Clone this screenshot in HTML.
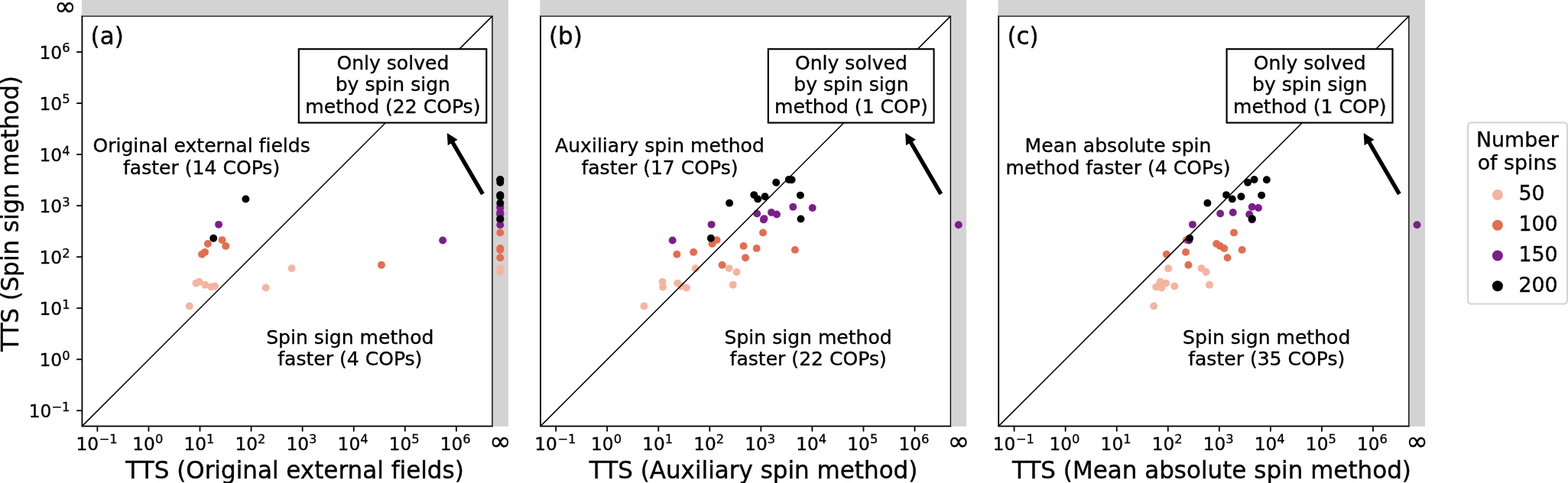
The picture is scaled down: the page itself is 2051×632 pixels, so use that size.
<!DOCTYPE html>
<html lang="en">
<head>
<meta charset="utf-8">
<title>TTS comparison</title>
<style>html,body{margin:0;padding:0;background:#fff;}body{width:2051px;height:632px;overflow:hidden;}svg{display:block;}</style>
</head>
<body>
<svg width="2051" height="632" viewBox="0 0 2051 632" font-family='"DejaVu Sans", "Liberation Sans", sans-serif' fill="#000" style="font-variant-ligatures:none">
<rect x="0" y="0" width="2051" height="632" fill="#fff"/>
<rect x="107.00" y="-5" width="557.86" height="562.90" fill="#d3d3d3"/>
<rect x="107.4" y="20.9" width="536.74" height="536.75" fill="#fff"/>
<rect x="107.4" y="20.9" width="536.74" height="536.75" fill="none" stroke="#000" stroke-width="1.8"/>
<rect x="107.00" y="-5" width="557.86" height="25.60" fill="#d3d3d3"/>
<rect x="644.64" y="-5" width="20.22" height="562.90" fill="#d3d3d3"/>
<g fill="#f4b5a0">
<circle cx="381.60" cy="351.20" r="4.95"/>
<circle cx="654.30" cy="351.10" r="4.95"/>
<circle cx="654.30" cy="356.00" r="4.95"/>
<circle cx="260.60" cy="368.75" r="4.95"/>
<circle cx="256.50" cy="370.60" r="4.95"/>
<circle cx="268.30" cy="372.75" r="4.95"/>
<circle cx="281.10" cy="374.55" r="4.95"/>
<circle cx="276.30" cy="375.50" r="4.95"/>
<circle cx="347.70" cy="376.45" r="4.95"/>
<circle cx="247.80" cy="400.50" r="4.95"/>
</g>
<g fill="#e46d50">
<circle cx="654.30" cy="304.40" r="4.95"/>
<circle cx="290.50" cy="314.10" r="4.95"/>
<circle cx="271.85" cy="319.00" r="4.95"/>
<circle cx="295.30" cy="321.90" r="4.95"/>
<circle cx="654.30" cy="324.90" r="4.95"/>
<circle cx="654.30" cy="326.90" r="4.95"/>
<circle cx="268.05" cy="329.90" r="4.95"/>
<circle cx="264.10" cy="332.80" r="4.95"/>
<circle cx="654.30" cy="337.20" r="4.95"/>
<circle cx="498.95" cy="346.70" r="4.95"/>
</g>
<g fill="#7a1f8a">
<circle cx="654.30" cy="270.75" r="4.95"/>
<circle cx="654.30" cy="272.00" r="4.95"/>
<circle cx="654.30" cy="277.95" r="4.95"/>
<circle cx="654.30" cy="279.55" r="4.95"/>
<circle cx="654.30" cy="280.50" r="4.95"/>
<circle cx="654.30" cy="286.10" r="4.95"/>
<circle cx="654.30" cy="287.40" r="4.95"/>
<circle cx="286.05" cy="293.85" r="4.95"/>
<circle cx="654.30" cy="294.20" r="4.95"/>
<circle cx="579.10" cy="314.50" r="4.95"/>
</g>
<g fill="#000000">
<circle cx="654.30" cy="235.05" r="4.95"/>
<circle cx="654.30" cy="235.25" r="4.95"/>
<circle cx="654.30" cy="238.80" r="4.95"/>
<circle cx="654.30" cy="255.10" r="4.95"/>
<circle cx="654.30" cy="255.60" r="4.95"/>
<circle cx="654.30" cy="257.30" r="4.95"/>
<circle cx="321.40" cy="260.40" r="4.95"/>
<circle cx="654.30" cy="265.65" r="4.95"/>
<circle cx="654.30" cy="286.40" r="4.95"/>
<circle cx="279.20" cy="311.80" r="4.95"/>
</g>
<line x1="107.4" y1="557.65" x2="644.14" y2="20.9" stroke="#000" stroke-width="1.5"/>
<line x1="127.37" y1="557.65" x2="127.37" y2="564.65" stroke="#000" stroke-width="1.8"/>
<text transform="translate(99.42,589.40) scale(1,1.0)" font-size="23.25" text-anchor="start" stroke="#000" stroke-width="0.35">10</text>
<text transform="translate(129.69,580.30) scale(1,1.0)" font-size="16.3" text-anchor="start" stroke="#000" stroke-width="0.3">−1</text>
<line x1="194.44" y1="557.65" x2="194.44" y2="564.65" stroke="#000" stroke-width="1.8"/>
<text transform="translate(173.32,589.40) scale(1,1.0)" font-size="23.25" text-anchor="start" stroke="#000" stroke-width="0.35">10</text>
<text transform="translate(202.89,580.30) scale(1,1.0)" font-size="16.3" text-anchor="start" stroke="#000" stroke-width="0.3">0</text>
<line x1="261.51" y1="557.65" x2="261.51" y2="564.65" stroke="#000" stroke-width="1.8"/>
<text transform="translate(240.39,589.40) scale(1,1.0)" font-size="23.25" text-anchor="start" stroke="#000" stroke-width="0.35">10</text>
<text transform="translate(269.96,580.30) scale(1,1.0)" font-size="16.3" text-anchor="start" stroke="#000" stroke-width="0.3">1</text>
<line x1="328.58" y1="557.65" x2="328.58" y2="564.65" stroke="#000" stroke-width="1.8"/>
<text transform="translate(307.46,589.40) scale(1,1.0)" font-size="23.25" text-anchor="start" stroke="#000" stroke-width="0.35">10</text>
<text transform="translate(337.03,580.30) scale(1,1.0)" font-size="16.3" text-anchor="start" stroke="#000" stroke-width="0.3">2</text>
<line x1="395.65" y1="557.65" x2="395.65" y2="564.65" stroke="#000" stroke-width="1.8"/>
<text transform="translate(374.53,589.40) scale(1,1.0)" font-size="23.25" text-anchor="start" stroke="#000" stroke-width="0.35">10</text>
<text transform="translate(404.10,580.30) scale(1,1.0)" font-size="16.3" text-anchor="start" stroke="#000" stroke-width="0.3">3</text>
<line x1="462.72" y1="557.65" x2="462.72" y2="564.65" stroke="#000" stroke-width="1.8"/>
<text transform="translate(441.60,589.40) scale(1,1.0)" font-size="23.25" text-anchor="start" stroke="#000" stroke-width="0.35">10</text>
<text transform="translate(471.17,580.30) scale(1,1.0)" font-size="16.3" text-anchor="start" stroke="#000" stroke-width="0.3">4</text>
<line x1="529.79" y1="557.65" x2="529.79" y2="564.65" stroke="#000" stroke-width="1.8"/>
<text transform="translate(508.67,589.40) scale(1,1.0)" font-size="23.25" text-anchor="start" stroke="#000" stroke-width="0.35">10</text>
<text transform="translate(538.24,580.30) scale(1,1.0)" font-size="16.3" text-anchor="start" stroke="#000" stroke-width="0.3">5</text>
<line x1="596.86" y1="557.65" x2="596.86" y2="564.65" stroke="#000" stroke-width="1.8"/>
<text transform="translate(575.74,589.40) scale(1,1.0)" font-size="23.25" text-anchor="start" stroke="#000" stroke-width="0.35">10</text>
<text transform="translate(605.31,580.30) scale(1,1.0)" font-size="16.3" text-anchor="start" stroke="#000" stroke-width="0.3">6</text>
<g transform="translate(0,0)">
<text transform="translate(654.30,588.90) scale(1,1.0)" font-size="34.3" text-anchor="middle" stroke="#000" stroke-width="0.4">∞</text>
<text transform="translate(385.55,626.10) scale(1,1.028)" font-size="31.0" text-anchor="middle" stroke="#000" stroke-width="0.4">TTS (Original external fields)</text>
<text transform="translate(118.60,57.60) scale(1,1.028)" font-size="31.0" text-anchor="start" stroke="#000" stroke-width="0.4">(a)</text>
<text transform="translate(263.60,199.30) scale(1,1.005)" font-size="25.08" text-anchor="middle" stroke="#000" stroke-width="0.35">Original external fields</text>
<text transform="translate(263.60,227.90) scale(1,1.005)" font-size="25.08" text-anchor="middle" stroke="#000" stroke-width="0.35">faster (14 COPs)</text>
<text transform="translate(457.80,450.20) scale(1,1.005)" font-size="25.08" text-anchor="middle" stroke="#000" stroke-width="0.35">Spin sign method</text>
<text transform="translate(457.80,478.00) scale(1,1.005)" font-size="25.08" text-anchor="middle" stroke="#000" stroke-width="0.35">faster (4 COPs)</text>
<rect x="390.80" y="64.2" width="245.50" height="96.4" fill="#fff" stroke="#000" stroke-width="2.15"/>
<text transform="translate(513.85,91.20) scale(1,1.005)" font-size="25.08" text-anchor="middle" stroke="#000" stroke-width="0.35">Only solved</text>
<text transform="translate(513.85,119.40) scale(1,1.005)" font-size="25.08" text-anchor="middle" stroke="#000" stroke-width="0.35">by spin sign</text>
<text transform="translate(513.85,147.70) scale(1,1.005)" font-size="25.08" text-anchor="middle" stroke="#000" stroke-width="0.35">method (22 COPs)</text>
<polygon points="633.78,252.54 594.49,185.15 598.55,182.78 584.80,173.90 585.76,190.24 589.82,187.87 629.12,255.26" fill="#000"/>
</g>
<rect x="706.60" y="-5" width="557.30" height="562.90" fill="#d3d3d3"/>
<rect x="707.0" y="20.9" width="536.60" height="536.75" fill="#fff"/>
<rect x="707.0" y="20.9" width="536.60" height="536.75" fill="none" stroke="#000" stroke-width="1.8"/>
<rect x="706.60" y="-5" width="557.30" height="25.60" fill="#d3d3d3"/>
<rect x="1244.10" y="-5" width="19.80" height="562.90" fill="#d3d3d3"/>
<g fill="#f4b5a0">
<circle cx="909.85" cy="351.20" r="4.95"/>
<circle cx="953.60" cy="351.10" r="4.95"/>
<circle cx="963.60" cy="356.00" r="4.95"/>
<circle cx="866.60" cy="368.75" r="4.95"/>
<circle cx="886.30" cy="370.60" r="4.95"/>
<circle cx="958.80" cy="372.75" r="4.95"/>
<circle cx="891.10" cy="374.55" r="4.95"/>
<circle cx="867.10" cy="375.50" r="4.95"/>
<circle cx="897.90" cy="376.45" r="4.95"/>
<circle cx="842.50" cy="400.50" r="4.95"/>
</g>
<g fill="#e46d50">
<circle cx="998.00" cy="304.40" r="4.95"/>
<circle cx="937.60" cy="314.10" r="4.95"/>
<circle cx="931.50" cy="319.00" r="4.95"/>
<circle cx="972.60" cy="321.90" r="4.95"/>
<circle cx="989.70" cy="324.90" r="4.95"/>
<circle cx="1039.90" cy="326.90" r="4.95"/>
<circle cx="907.10" cy="329.90" r="4.95"/>
<circle cx="885.40" cy="332.80" r="4.95"/>
<circle cx="975.10" cy="337.20" r="4.95"/>
<circle cx="944.60" cy="346.70" r="4.95"/>
</g>
<g fill="#7a1f8a">
<circle cx="1037.30" cy="270.75" r="4.95"/>
<circle cx="1062.70" cy="272.00" r="4.95"/>
<circle cx="1009.00" cy="277.95" r="4.95"/>
<circle cx="990.20" cy="279.55" r="4.95"/>
<circle cx="1016.00" cy="280.50" r="4.95"/>
<circle cx="999.50" cy="286.10" r="4.95"/>
<circle cx="998.85" cy="287.40" r="4.95"/>
<circle cx="930.60" cy="293.85" r="4.95"/>
<circle cx="1253.80" cy="294.20" r="4.95"/>
<circle cx="879.70" cy="314.50" r="4.95"/>
</g>
<g fill="#000000">
<circle cx="1031.80" cy="235.05" r="4.95"/>
<circle cx="1035.60" cy="235.25" r="4.95"/>
<circle cx="1015.20" cy="238.80" r="4.95"/>
<circle cx="986.30" cy="255.10" r="4.95"/>
<circle cx="1046.90" cy="255.60" r="4.95"/>
<circle cx="1000.60" cy="257.30" r="4.95"/>
<circle cx="991.20" cy="260.40" r="4.95"/>
<circle cx="954.10" cy="265.65" r="4.95"/>
<circle cx="1047.50" cy="286.40" r="4.95"/>
<circle cx="929.90" cy="311.80" r="4.95"/>
</g>
<line x1="707.0" y1="557.65" x2="1243.6" y2="20.9" stroke="#000" stroke-width="1.5"/>
<line x1="727.15" y1="557.65" x2="727.15" y2="564.65" stroke="#000" stroke-width="1.8"/>
<text transform="translate(699.20,589.40) scale(1,1.0)" font-size="23.25" text-anchor="start" stroke="#000" stroke-width="0.35">10</text>
<text transform="translate(729.47,580.30) scale(1,1.0)" font-size="16.3" text-anchor="start" stroke="#000" stroke-width="0.3">−1</text>
<line x1="794.20" y1="557.65" x2="794.20" y2="564.65" stroke="#000" stroke-width="1.8"/>
<text transform="translate(773.08,589.40) scale(1,1.0)" font-size="23.25" text-anchor="start" stroke="#000" stroke-width="0.35">10</text>
<text transform="translate(802.65,580.30) scale(1,1.0)" font-size="16.3" text-anchor="start" stroke="#000" stroke-width="0.3">0</text>
<line x1="861.25" y1="557.65" x2="861.25" y2="564.65" stroke="#000" stroke-width="1.8"/>
<text transform="translate(840.13,589.40) scale(1,1.0)" font-size="23.25" text-anchor="start" stroke="#000" stroke-width="0.35">10</text>
<text transform="translate(869.70,580.30) scale(1,1.0)" font-size="16.3" text-anchor="start" stroke="#000" stroke-width="0.3">1</text>
<line x1="928.30" y1="557.65" x2="928.30" y2="564.65" stroke="#000" stroke-width="1.8"/>
<text transform="translate(907.18,589.40) scale(1,1.0)" font-size="23.25" text-anchor="start" stroke="#000" stroke-width="0.35">10</text>
<text transform="translate(936.75,580.30) scale(1,1.0)" font-size="16.3" text-anchor="start" stroke="#000" stroke-width="0.3">2</text>
<line x1="995.35" y1="557.65" x2="995.35" y2="564.65" stroke="#000" stroke-width="1.8"/>
<text transform="translate(974.23,589.40) scale(1,1.0)" font-size="23.25" text-anchor="start" stroke="#000" stroke-width="0.35">10</text>
<text transform="translate(1003.80,580.30) scale(1,1.0)" font-size="16.3" text-anchor="start" stroke="#000" stroke-width="0.3">3</text>
<line x1="1062.40" y1="557.65" x2="1062.40" y2="564.65" stroke="#000" stroke-width="1.8"/>
<text transform="translate(1041.28,589.40) scale(1,1.0)" font-size="23.25" text-anchor="start" stroke="#000" stroke-width="0.35">10</text>
<text transform="translate(1070.85,580.30) scale(1,1.0)" font-size="16.3" text-anchor="start" stroke="#000" stroke-width="0.3">4</text>
<line x1="1129.45" y1="557.65" x2="1129.45" y2="564.65" stroke="#000" stroke-width="1.8"/>
<text transform="translate(1108.33,589.40) scale(1,1.0)" font-size="23.25" text-anchor="start" stroke="#000" stroke-width="0.35">10</text>
<text transform="translate(1137.90,580.30) scale(1,1.0)" font-size="16.3" text-anchor="start" stroke="#000" stroke-width="0.3">5</text>
<line x1="1196.50" y1="557.65" x2="1196.50" y2="564.65" stroke="#000" stroke-width="1.8"/>
<text transform="translate(1175.38,589.40) scale(1,1.0)" font-size="23.25" text-anchor="start" stroke="#000" stroke-width="0.35">10</text>
<text transform="translate(1204.95,580.30) scale(1,1.0)" font-size="16.3" text-anchor="start" stroke="#000" stroke-width="0.3">6</text>
<g transform="translate(599.35,0)">
<text transform="translate(654.45,588.90) scale(1,1.0)" font-size="34.3" text-anchor="middle" stroke="#000" stroke-width="0.4">∞</text>
<text transform="translate(386.25,626.10) scale(1,1.028)" font-size="31.0" text-anchor="middle" stroke="#000" stroke-width="0.4">TTS (Auxiliary spin method)</text>
<text transform="translate(118.60,57.60) scale(1,1.028)" font-size="31.0" text-anchor="start" stroke="#000" stroke-width="0.4">(b)</text>
<text transform="translate(263.60,199.30) scale(1,1.005)" font-size="25.08" text-anchor="middle" stroke="#000" stroke-width="0.35">Auxiliary spin method</text>
<text transform="translate(263.60,227.90) scale(1,1.005)" font-size="25.08" text-anchor="middle" stroke="#000" stroke-width="0.35">faster (17 COPs)</text>
<text transform="translate(457.80,450.20) scale(1,1.005)" font-size="25.08" text-anchor="middle" stroke="#000" stroke-width="0.35">Spin sign method</text>
<text transform="translate(457.80,478.00) scale(1,1.005)" font-size="25.08" text-anchor="middle" stroke="#000" stroke-width="0.35">faster (22 COPs)</text>
<rect x="405.50" y="64.2" width="216.70" height="96.4" fill="#fff" stroke="#000" stroke-width="2.15"/>
<text transform="translate(514.05,91.20) scale(1,1.005)" font-size="25.08" text-anchor="middle" stroke="#000" stroke-width="0.35">Only solved</text>
<text transform="translate(514.05,119.40) scale(1,1.005)" font-size="25.08" text-anchor="middle" stroke="#000" stroke-width="0.35">by spin sign</text>
<text transform="translate(514.05,147.70) scale(1,1.005)" font-size="25.08" text-anchor="middle" stroke="#000" stroke-width="0.35">method (1 COP)</text>
<polygon points="633.78,252.54 594.49,185.15 598.55,182.78 584.80,173.90 585.76,190.24 589.82,187.87 629.12,255.26" fill="#000"/>
</g>
<rect x="1305.80" y="-5" width="558.10" height="562.90" fill="#d3d3d3"/>
<rect x="1306.2" y="20.9" width="536.85" height="536.75" fill="#fff"/>
<rect x="1306.2" y="20.9" width="536.85" height="536.75" fill="none" stroke="#000" stroke-width="1.8"/>
<rect x="1305.80" y="-5" width="558.10" height="25.60" fill="#d3d3d3"/>
<rect x="1843.55" y="-5" width="20.35" height="562.90" fill="#d3d3d3"/>
<g fill="#f4b5a0">
<circle cx="1528.20" cy="351.20" r="4.95"/>
<circle cx="1571.50" cy="351.10" r="4.95"/>
<circle cx="1577.60" cy="356.00" r="4.95"/>
<circle cx="1517.65" cy="368.75" r="4.95"/>
<circle cx="1525.10" cy="370.60" r="4.95"/>
<circle cx="1582.05" cy="372.75" r="4.95"/>
<circle cx="1536.30" cy="374.55" r="4.95"/>
<circle cx="1512.20" cy="375.50" r="4.95"/>
<circle cx="1519.55" cy="376.45" r="4.95"/>
<circle cx="1509.20" cy="400.50" r="4.95"/>
</g>
<g fill="#e46d50">
<circle cx="1614.00" cy="304.40" r="4.95"/>
<circle cx="1551.90" cy="314.10" r="4.95"/>
<circle cx="1591.20" cy="319.00" r="4.95"/>
<circle cx="1596.00" cy="321.90" r="4.95"/>
<circle cx="1601.30" cy="324.90" r="4.95"/>
<circle cx="1624.65" cy="326.90" r="4.95"/>
<circle cx="1551.00" cy="329.90" r="4.95"/>
<circle cx="1525.90" cy="332.80" r="4.95"/>
<circle cx="1605.60" cy="337.20" r="4.95"/>
<circle cx="1554.40" cy="346.70" r="4.95"/>
</g>
<g fill="#7a1f8a">
<circle cx="1637.70" cy="270.75" r="4.95"/>
<circle cx="1646.00" cy="272.00" r="4.95"/>
<circle cx="1612.80" cy="277.95" r="4.95"/>
<circle cx="1596.15" cy="279.55" r="4.95"/>
<circle cx="1634.20" cy="280.50" r="4.95"/>
<circle cx="1637.70" cy="286.10" r="4.95"/>
<circle cx="1637.70" cy="287.40" r="4.95"/>
<circle cx="1559.90" cy="293.85" r="4.95"/>
<circle cx="1853.55" cy="294.20" r="4.95"/>
<circle cx="1555.30" cy="314.50" r="4.95"/>
</g>
<g fill="#000000">
<circle cx="1640.60" cy="235.05" r="4.95"/>
<circle cx="1656.85" cy="235.25" r="4.95"/>
<circle cx="1632.10" cy="238.80" r="4.95"/>
<circle cx="1604.00" cy="255.10" r="4.95"/>
<circle cx="1650.10" cy="255.60" r="4.95"/>
<circle cx="1623.50" cy="257.30" r="4.95"/>
<circle cx="1611.80" cy="260.40" r="4.95"/>
<circle cx="1579.40" cy="265.65" r="4.95"/>
<circle cx="1637.70" cy="286.40" r="4.95"/>
<circle cx="1556.10" cy="311.80" r="4.95"/>
</g>
<line x1="1306.2" y1="557.65" x2="1843.05" y2="20.9" stroke="#000" stroke-width="1.5"/>
<line x1="1326.60" y1="557.65" x2="1326.60" y2="564.65" stroke="#000" stroke-width="1.8"/>
<text transform="translate(1298.65,589.40) scale(1,1.0)" font-size="23.25" text-anchor="start" stroke="#000" stroke-width="0.35">10</text>
<text transform="translate(1328.92,580.30) scale(1,1.0)" font-size="16.3" text-anchor="start" stroke="#000" stroke-width="0.3">−1</text>
<line x1="1393.66" y1="557.65" x2="1393.66" y2="564.65" stroke="#000" stroke-width="1.8"/>
<text transform="translate(1372.54,589.40) scale(1,1.0)" font-size="23.25" text-anchor="start" stroke="#000" stroke-width="0.35">10</text>
<text transform="translate(1402.11,580.30) scale(1,1.0)" font-size="16.3" text-anchor="start" stroke="#000" stroke-width="0.3">0</text>
<line x1="1460.72" y1="557.65" x2="1460.72" y2="564.65" stroke="#000" stroke-width="1.8"/>
<text transform="translate(1439.60,589.40) scale(1,1.0)" font-size="23.25" text-anchor="start" stroke="#000" stroke-width="0.35">10</text>
<text transform="translate(1469.17,580.30) scale(1,1.0)" font-size="16.3" text-anchor="start" stroke="#000" stroke-width="0.3">1</text>
<line x1="1527.78" y1="557.65" x2="1527.78" y2="564.65" stroke="#000" stroke-width="1.8"/>
<text transform="translate(1506.66,589.40) scale(1,1.0)" font-size="23.25" text-anchor="start" stroke="#000" stroke-width="0.35">10</text>
<text transform="translate(1536.23,580.30) scale(1,1.0)" font-size="16.3" text-anchor="start" stroke="#000" stroke-width="0.3">2</text>
<line x1="1594.84" y1="557.65" x2="1594.84" y2="564.65" stroke="#000" stroke-width="1.8"/>
<text transform="translate(1573.72,589.40) scale(1,1.0)" font-size="23.25" text-anchor="start" stroke="#000" stroke-width="0.35">10</text>
<text transform="translate(1603.29,580.30) scale(1,1.0)" font-size="16.3" text-anchor="start" stroke="#000" stroke-width="0.3">3</text>
<line x1="1661.90" y1="557.65" x2="1661.90" y2="564.65" stroke="#000" stroke-width="1.8"/>
<text transform="translate(1640.78,589.40) scale(1,1.0)" font-size="23.25" text-anchor="start" stroke="#000" stroke-width="0.35">10</text>
<text transform="translate(1670.35,580.30) scale(1,1.0)" font-size="16.3" text-anchor="start" stroke="#000" stroke-width="0.3">4</text>
<line x1="1728.96" y1="557.65" x2="1728.96" y2="564.65" stroke="#000" stroke-width="1.8"/>
<text transform="translate(1707.84,589.40) scale(1,1.0)" font-size="23.25" text-anchor="start" stroke="#000" stroke-width="0.35">10</text>
<text transform="translate(1737.41,580.30) scale(1,1.0)" font-size="16.3" text-anchor="start" stroke="#000" stroke-width="0.3">5</text>
<line x1="1796.02" y1="557.65" x2="1796.02" y2="564.65" stroke="#000" stroke-width="1.8"/>
<text transform="translate(1774.90,589.40) scale(1,1.0)" font-size="23.25" text-anchor="start" stroke="#000" stroke-width="0.35">10</text>
<text transform="translate(1804.47,580.30) scale(1,1.0)" font-size="16.3" text-anchor="start" stroke="#000" stroke-width="0.3">6</text>
<g transform="translate(1198.9,0)">
<text transform="translate(654.65,588.90) scale(1,1.0)" font-size="34.3" text-anchor="middle" stroke="#000" stroke-width="0.4">∞</text>
<text transform="translate(386.05,626.10) scale(1,1.028)" font-size="31.0" text-anchor="middle" stroke="#000" stroke-width="0.4">TTS (Mean absolute spin method)</text>
<text transform="translate(118.60,57.60) scale(1,1.028)" font-size="31.0" text-anchor="start" stroke="#000" stroke-width="0.4">(c)</text>
<text transform="translate(263.60,199.30) scale(1,1.005)" font-size="25.08" text-anchor="middle" stroke="#000" stroke-width="0.35">Mean absolute spin</text>
<text transform="translate(263.60,227.90) scale(1,1.005)" font-size="25.08" text-anchor="middle" stroke="#000" stroke-width="0.35">method faster (4 COPs)</text>
<text transform="translate(457.80,450.20) scale(1,1.005)" font-size="25.08" text-anchor="middle" stroke="#000" stroke-width="0.35">Spin sign method</text>
<text transform="translate(457.80,478.00) scale(1,1.005)" font-size="25.08" text-anchor="middle" stroke="#000" stroke-width="0.35">faster (35 COPs)</text>
<rect x="405.70" y="64.2" width="216.90" height="96.4" fill="#fff" stroke="#000" stroke-width="2.15"/>
<text transform="translate(514.35,91.20) scale(1,1.005)" font-size="25.08" text-anchor="middle" stroke="#000" stroke-width="0.35">Only solved</text>
<text transform="translate(514.35,119.40) scale(1,1.005)" font-size="25.08" text-anchor="middle" stroke="#000" stroke-width="0.35">by spin sign</text>
<text transform="translate(514.35,147.70) scale(1,1.005)" font-size="25.08" text-anchor="middle" stroke="#000" stroke-width="0.35">method (1 COP)</text>
<polygon points="633.78,252.54 594.49,185.15 598.55,182.78 584.80,173.90 585.76,190.24 589.82,187.87 629.12,255.26" fill="#000"/>
</g>
<line x1="100.2" y1="68.08" x2="107.40" y2="68.08" stroke="#000" stroke-width="1.8"/>
<text transform="translate(51.46,76.94) scale(1,1.0)" font-size="23.25" text-anchor="start" stroke="#000" stroke-width="0.35">10</text>
<text transform="translate(81.13,68.44) scale(1,1.0)" font-size="16.3" text-anchor="start" stroke="#000" stroke-width="0.3">6</text>
<line x1="100.2" y1="135.11" x2="107.40" y2="135.11" stroke="#000" stroke-width="1.8"/>
<text transform="translate(51.46,143.97) scale(1,1.0)" font-size="23.25" text-anchor="start" stroke="#000" stroke-width="0.35">10</text>
<text transform="translate(81.13,135.47) scale(1,1.0)" font-size="16.3" text-anchor="start" stroke="#000" stroke-width="0.3">5</text>
<line x1="100.2" y1="202.14" x2="107.40" y2="202.14" stroke="#000" stroke-width="1.8"/>
<text transform="translate(51.46,211.00) scale(1,1.0)" font-size="23.25" text-anchor="start" stroke="#000" stroke-width="0.35">10</text>
<text transform="translate(81.13,202.50) scale(1,1.0)" font-size="16.3" text-anchor="start" stroke="#000" stroke-width="0.3">4</text>
<line x1="100.2" y1="269.17" x2="107.40" y2="269.17" stroke="#000" stroke-width="1.8"/>
<text transform="translate(51.46,278.03) scale(1,1.0)" font-size="23.25" text-anchor="start" stroke="#000" stroke-width="0.35">10</text>
<text transform="translate(81.13,269.53) scale(1,1.0)" font-size="16.3" text-anchor="start" stroke="#000" stroke-width="0.3">3</text>
<line x1="100.2" y1="336.20" x2="107.40" y2="336.20" stroke="#000" stroke-width="1.8"/>
<text transform="translate(51.46,345.06) scale(1,1.0)" font-size="23.25" text-anchor="start" stroke="#000" stroke-width="0.35">10</text>
<text transform="translate(81.13,336.56) scale(1,1.0)" font-size="16.3" text-anchor="start" stroke="#000" stroke-width="0.3">2</text>
<line x1="100.2" y1="403.23" x2="107.40" y2="403.23" stroke="#000" stroke-width="1.8"/>
<text transform="translate(51.46,412.09) scale(1,1.0)" font-size="23.25" text-anchor="start" stroke="#000" stroke-width="0.35">10</text>
<text transform="translate(81.13,403.59) scale(1,1.0)" font-size="16.3" text-anchor="start" stroke="#000" stroke-width="0.3">1</text>
<line x1="100.2" y1="470.26" x2="107.40" y2="470.26" stroke="#000" stroke-width="1.8"/>
<text transform="translate(51.46,479.12) scale(1,1.0)" font-size="23.25" text-anchor="start" stroke="#000" stroke-width="0.35">10</text>
<text transform="translate(81.13,470.62) scale(1,1.0)" font-size="16.3" text-anchor="start" stroke="#000" stroke-width="0.3">0</text>
<line x1="100.2" y1="537.29" x2="107.40" y2="537.29" stroke="#000" stroke-width="1.8"/>
<text transform="translate(37.80,546.15) scale(1,1.0)" font-size="23.25" text-anchor="start" stroke="#000" stroke-width="0.35">10</text>
<text transform="translate(67.47,537.65) scale(1,1.0)" font-size="16.3" text-anchor="start" stroke="#000" stroke-width="0.3">−1</text>
<text transform="translate(85.20,19.90) scale(1,1.0)" font-size="34.3" text-anchor="middle" stroke="#000" stroke-width="0.4">∞</text>
<text transform="translate(23.8,279.5) rotate(-90) scale(0.9965,1.02)" font-size="31.0" text-anchor="middle" stroke="#000" stroke-width="0.4">TTS (Spin sign method)</text>
<rect x="1920.1" y="160.3" width="129.8" height="237.3" rx="4.2" ry="4.2" fill="#fff" stroke="#d6d6d6" stroke-width="2.2"/>
<text transform="translate(1984.90,192.30) scale(1,1.02)" font-size="26.85" text-anchor="middle" stroke="#000" stroke-width="0.35">Number</text>
<text transform="translate(1984.60,222.00) scale(1,1.02)" font-size="26.85" text-anchor="middle" stroke="#000" stroke-width="0.35">of spins</text>
<circle cx="1958.9" cy="255.00" r="7.0" fill="#f4b5a0"/>
<text transform="translate(1986.40,262.35) scale(1,1.02)" font-size="26.85" text-anchor="start" stroke="#000" stroke-width="0.35">50</text>
<circle cx="1958.9" cy="294.75" r="7.0" fill="#e46d50"/>
<text transform="translate(1986.40,302.10) scale(1,1.02)" font-size="26.85" text-anchor="start" stroke="#000" stroke-width="0.35">100</text>
<circle cx="1958.9" cy="334.50" r="7.0" fill="#7a1f8a"/>
<text transform="translate(1986.40,341.85) scale(1,1.02)" font-size="26.85" text-anchor="start" stroke="#000" stroke-width="0.35">150</text>
<circle cx="1958.9" cy="374.25" r="7.0" fill="#000000"/>
<text transform="translate(1986.40,381.60) scale(1,1.02)" font-size="26.85" text-anchor="start" stroke="#000" stroke-width="0.35">200</text>
</svg>
</body>
</html>
